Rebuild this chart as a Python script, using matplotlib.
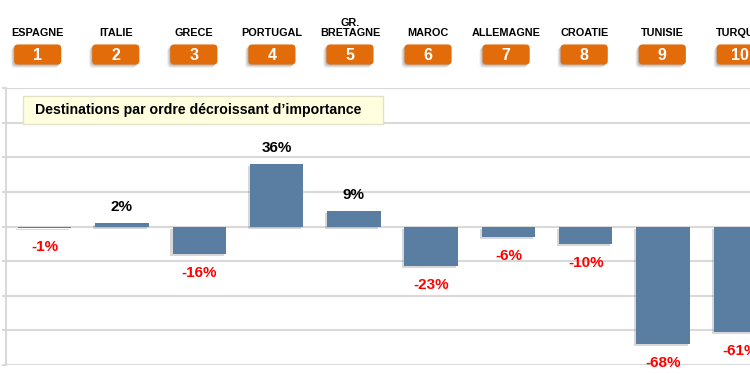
import numpy as np
import matplotlib
matplotlib.use('Agg')
import matplotlib.pyplot as plt
import matplotlib.patheffects as pe
from matplotlib.patches import FancyBboxPatch, Rectangle

plt.rcParams['font.family'] = ['Liberation Sans', 'DejaVu Sans']

# Data
countries = ['ESPAGNE', 'ITALIE', 'GRECE', 'PORTUGAL', 'GR.\nBRETAGNE',
             'MAROC', 'ALLEMAGNE', 'CROATIE', 'TUNISIE', 'TURQUIE']
ranks = [1, 2, 3, 4, 5, 6, 7, 8, 9, 10]
changes = [-1, 2, -16, 36, 9, -23, -6, -10, -68, -61]
title = "Destinations par ordre décroissant d\u2019importance"

# Styles
BAR_COLOR = '#5A7EA2'
BADGE_COLOR = '#E36C0A'
GRID_COLOR = '#D9D9D9'
W, H = 750, 375
PX_PER_CAT = 77.3

fig = plt.figure(figsize=(7.5, 3.75), dpi=100)

# main axes: runs past the right edge of the figure like the original crop
left = 6 / W
width = PX_PER_CAT * 10 / W
ax = fig.add_axes([left, (H - 365) / H, width, (365 - 88) / H])
x = np.arange(len(changes))
bars = ax.bar(x, changes, width=0.69, color=BAR_COLOR, zorder=3,
              path_effects=[pe.SimplePatchShadow(offset=(-1.5, -1.5), shadow_rgbFace='#808080', alpha=0.3),
                            pe.Normal()])
ax.set_xlim(-0.5, 9.5)
ax.set_ylim(-80, 80)
ax.set_yticks(np.arange(-80, 81, 20))
ax.set_yticklabels([])
ax.set_xticks([])
ax.grid(axis='y', color=GRID_COLOR, linewidth=1.5, zorder=0)
for s in ['top', 'right', 'bottom']:
    ax.spines[s].set_visible(False)
ax.spines['left'].set_color(GRID_COLOR)
ax.spines['left'].set_linewidth(1.5)
ax.tick_params(axis='y', direction='out', length=3, color=GRID_COLOR, width=1.5)

for xi, v in zip(x, changes):
    if v >= 0:
        ax.annotate(f'{v}%', (xi, v), xytext=(0, 11.5), textcoords='offset points',
                    ha='center', va='center', fontsize=11, fontweight='bold', color='black')
    else:
        ax.annotate(f'{v}%', (xi, v), xytext=(0, -13.5), textcoords='offset points',
                    ha='center', va='center', fontsize=11, fontweight='bold', color='#FF0000')

# title box
ax.add_patch(Rectangle((23 / W, (H - 124) / H), 360 / W, 28 / H, transform=fig.transFigure,
                       facecolor='#FFFFE0', edgecolor='#E2E2C8', linewidth=1, zorder=5))
fig.text(35 / W, (H - 110) / H, title, fontsize=10.2, fontweight='bold',
         ha='left', va='center', zorder=6)

# header axes with the ranked badges (y in pixels from top)
hax = fig.add_axes([left, (H - 88) / H, width, 88 / H])
hax.set_xlim(-0.5, 9.5)
hax.set_ylim(88, 0)
hax.axis('off')
aspect = PX_PER_CAT
bw, bh = 0.57, 17
style = 'round,pad=0.02,rounding_size=0.05'
for i, (name, r) in enumerate(zip(countries, ranks)):
    cx = i - 0.09 + 0.01 * i
    hax.text(cx, 36.5, name, ha='center', va='baseline', fontsize=7.8,
             fontweight='bold', linespacing=1.05, clip_on=False)
    # soft shadow, lower left
    for k, a in [(1, 0.18), (2, 0.14), (3, 0.10), (4, 0.06)]:
        hax.add_patch(FancyBboxPatch((cx - bw / 2 - k * 0.011, 46 + k * 0.9), bw, bh,
                                     boxstyle=style, mutation_aspect=aspect,
                                     facecolor='#555555', edgecolor='none',
                                     alpha=a, clip_on=False))
    hax.add_patch(FancyBboxPatch((cx - bw / 2, 46), bw, bh, boxstyle=style,
                                 mutation_aspect=aspect, facecolor=BADGE_COLOR,
                                 edgecolor='none', clip_on=False))
    hax.text(cx, 55, str(r), ha='center', va='center', fontsize=11.5,
             fontweight='bold', color='white', clip_on=False)

fig.savefig('out.png', dpi=100)
